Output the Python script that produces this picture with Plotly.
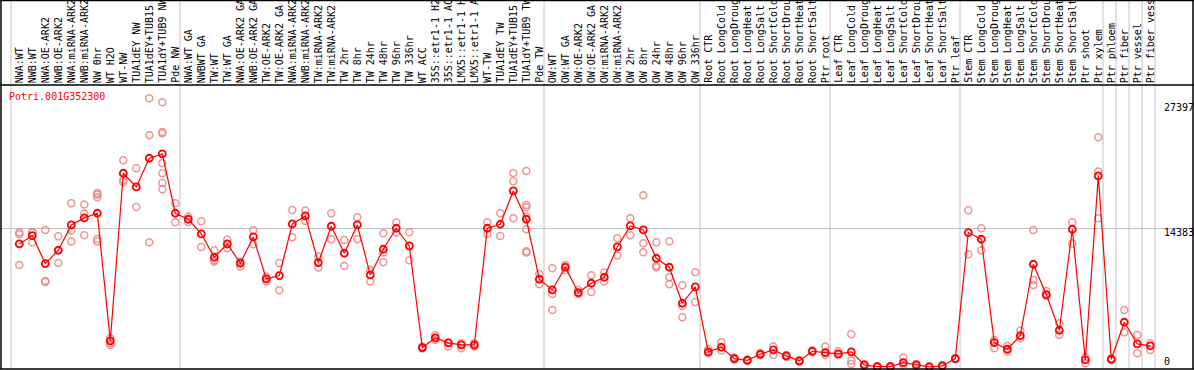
import plotly.graph_objects as go

title_text = "Potri.001G352300"

group_labels = [
    ["NWA:WT", "NWB:WT", "NWA:OE-ARK2", "NWB:OE-ARK2", "NWA:miRNA-ARK2", "NWB:miRNA-ARK2",
     "NW 0hr", "WT H2O", "WT-NW", "TUA1dEY NW", "TUA1dEY+TUB15 NW", "TUA1dY+TUB9 NW", "Pde NW"],
    ["NWA:WT GA", "NWBWT GA", "TW:WT", "TW:WT GA", "NWA:OE-ARK2 GA", "NWB:OE-ARK2 GA",
     "TW:OE-ARK2", "TW:OE-ARK2 GA", "NWA:miRNA-ARK2 GA", "NWB:miRNA-ARK2 GA", "TW:miRNA-ARK2",
     "TW:miRNA-ARK2 GA", "TW 2hr", "TW 8hr", "TW 24hr", "TW 48hr", "TW 96hr", "TW 336hr",
     "WT ACC", "35S::etr1-1 H2O", "35S::etr1-1 ACC", "LMX5::etr1-1 H2O", "LMX5::etr1-1 ACC",
     "WT-TW", "TUA1dEY TW", "TUA1dEY+TUB15 TW", "TUA1dY+TUB9 TW", "Pde TW"],
    ["OW:WT", "OW:WT GA", "OW:OE-ARK2", "OW:OE-ARK2 GA", "OW:miRNA-ARK2", "OW:miRNA-ARK2 GA",
     "OW 2hr", "OW 8hr", "OW 24hr", "OW 48hr", "OW 96hr", "OW 336hr"],
    ["Root CTR", "Root LongCold", "Root LongDrought", "Root LongHeat", "Root LongSalt",
     "Root ShortCold", "Root ShortDrought", "Root ShortHeat", "Root ShortSalt", "Ptr root"],
    ["Leaf CTR", "Leaf LongCold", "Leaf LongDrought", "Leaf LongHeat", "Leaf LongSalt",
     "Leaf ShortCold", "Leaf ShortDrought", "Leaf ShortHeat", "Leaf ShortSalt", "Ptr leaf"],
    ["Stem CTR", "Stem LongCold", "Stem LongDrought", "Stem LongHeat", "Stem LongSalt",
     "Stem ShortCold", "Stem ShortDrought", "Stem ShortHeat", "Stem ShortSalt", "Ptr shoot", "Ptr xylem"],
    ["Ptr phloem"],
    ["Ptr fiber"],
    ["Ptr vessel"],
    ["Ptr fiber vessel"],
]

mean_values = [
    12739, 13600, 10708, 12085, 14702, 15425, 15907, 2720, 20038, 18627, 21588, 22035, 15907,
    15287, 13772, 11362, 12739, 10742, 13462, 9124, 9468, 14805, 15631, 10811, 14564, 11775,
    14702, 9537, 12188, 14357, 12533, 2031, 3030, 2513, 2307, 2307, 14357, 14770, 18213, 15287,
    9090, 7988,
    10329, 7712, 8676, 9296, 12429, 14598, 14185, 11259, 10329, 6611, 8298,
    1584, 2066, 895, 723, 1343, 1790, 1171, 654, 1653, 1515,
    1377, 1584, 241, 69, 69, 482, 241, 34, 138, 895,
    13910, 13221, 2548, 1859, 3271, 10639, 7506, 3822, 14254, 757, 19763,
    826, 4648, 2410, 2204,
]

replicate_values = [
    [13910, 13738, 10570], [13910, 13944, 12877], [14185, 8917, 8814], [13531, 10777, 12085],
    [16940, 14116, 12980], [16802, 15872, 13634], [18007, 17835, 17559, 13256, 12980],
    [2995, 2479, 2307], [21381, 19350, 19143], [20555, 16561], [27785, 23963, 12911],
    [27372, 24308, 24170, 21071, 20038, 19040, 18386], [16940, 14977],
    [15562, 15011], [15080, 12429], [12085, 11086, 10914], [13187, 12292], [10914, 10398],
    [14151, 12705], [9365, 8849], [10777, 7953], [16251, 13428], [16182, 15115],
    [11431, 10295], [15907, 13221], [13152, 10467], [15494, 13221], [10054, 8849],
    [13841, 11844, 10845], [14943, 13910], [13944, 11052], [2135, 1928], [3305, 2823],
    [2548, 2135], [2479, 1963], [2479, 2135], [14977, 13772], [15907, 13565],
    [20073, 19212, 15390], [20279, 16767, 16526, 15562, 14254, 11982, 11844],
    [9640, 8573], [10226, 7575, 5922],
    [10570, 10054], [7988, 7575], [9503, 7781], [9778, 8849], [13324, 11534], [15390, 13634],
    [17766, 12808, 11878], [12911, 10467, 10329], [13015, 9296, 8573], [8470, 6335, 5165],
    [9813, 6748],
    [1859, 1446], [2582, 1722], [998, 792], [792, 654], [1446, 1239], [2135, 1274],
    [1274, 1067], [757, 551], [1722, 1584], [2135, 1274],
    [1653, 1274], [3409, 689, 344], [344, 138], [138, 0], [138, 0], [998, 241], [344, 138],
    [103, 0], [241, 34], [964, 826],
    [16217, 11672], [14357, 12085], [2823, 1963], [2204, 1618], [3787, 2995],
    [14185, 9021, 8504], [7884, 7368], [4545, 3340], [14977, 12774], [998, 413],
    [23757, 20210, 15390],
    [930, 757], [5922, 3615], [3340, 1446], [2479, 1790],
]

axis_tick_values = [27397, 14383, 0]
axis_tick_labels = ["27397", "14383", "0"]

# ---------------------------------------------------------------
categories = [lab for grp in group_labels for lab in grp]
n = len(categories)
xs = list(range(n))

W, H = 1194, 370
TOP, BOT = 85, 1
plot_h = H - TOP - BOT
x_range = [(0 - 19.3) / 13.0, (W - 19.3) / 13.0]
y_range = [-180, 29153]

def py_to_paper(py):
    return (H - BOT - py) / plot_h

MONO = "DejaVu Sans Mono"

rep_x, rep_y = [], []
for i, reps in enumerate(replicate_values):
    for v in reps:
        rep_x.append(i)
        rep_y.append(v)

fig = go.Figure()
fig.add_trace(go.Scatter(
    x=rep_x, y=rep_y, mode="markers",
    marker=dict(symbol="circle-open", size=7, color="rgba(235,130,130,0.85)",
                line=dict(width=1.5, color="rgba(235,130,130,0.85)")),
    hoverinfo="skip", showlegend=False, cliponaxis=False,
))
fig.add_trace(go.Scatter(
    x=xs, y=mean_values, mode="lines+markers",
    line=dict(color="#ff0000", width=1.2),
    marker=dict(symbol="circle-open", size=7, color="#ff0000",
                line=dict(width=1.8, color="#ee0000")),
    showlegend=False, cliponaxis=False,
))

shapes = []
bounds = [0]
for grp in group_labels:
    bounds.append(bounds[-1] + len(grp))
for b in bounds:
    xb = b - 0.638
    shapes.append(dict(type="line", xref="x", yref="paper", x0=xb, x1=xb,
                       y0=0, y1=py_to_paper(0), line=dict(color="#c4c4c4", width=1),
                       layer="below"))
for py in [0.5, 85, 369]:
    shapes.append(dict(type="line", xref="paper", yref="paper", x0=0, x1=1,
                       y0=py_to_paper(py), y1=py_to_paper(py),
                       line=dict(color="black", width=1.5)))
for pxl in [1, 1193]:
    shapes.append(dict(type="line", xref="paper", yref="paper", x0=pxl / W, x1=pxl / W,
                       y0=py_to_paper(369), y1=py_to_paper(0),
                       line=dict(color="black", width=1.5)))

annotations = []
for i, lab in enumerate(categories):
    annotations.append(dict(
        x=i, xref="x", y=1, yref="paper", yanchor="bottom", xanchor="center",
        text=lab[:14], textangle=-90, showarrow=False,
        font=dict(family=MONO, size=10, color="black"),
    ))
annotations.append(dict(
    x=7 / W, xref="paper", y=py_to_paper(96.7), yref="paper", xanchor="left", yanchor="middle",
    text=title_text, showarrow=False, font=dict(family=MONO, size=10, color="#ff0000"),
))
shifts = [-5, -4.7, 5.6]
for v, t, s in zip(axis_tick_values, axis_tick_labels, shifts):
    annotations.append(dict(
        x=1162 / W, xref="paper", y=v, yref="y", xanchor="left", yanchor="middle",
        yshift=s, text=t, showarrow=False, font=dict(family=MONO, size=10, color="black"),
    ))

fig.update_layout(
    width=W, height=H,
    margin=dict(l=0, r=0, t=TOP, b=BOT, pad=0),
    paper_bgcolor="white", plot_bgcolor="white",
    xaxis=dict(range=x_range, showgrid=False, zeroline=False, showticklabels=False,
               ticks="", showline=False, fixedrange=True),
    yaxis=dict(range=y_range, tickvals=[axis_tick_values[1]], showgrid=True,
               gridcolor="#c4c4c4", gridwidth=1, zeroline=False, showticklabels=False,
               ticks="", showline=False, fixedrange=True),
    shapes=shapes, annotations=annotations, showlegend=False,
)

fig.write_html(
    "out.html",
    config={"displayModeBar": False},
    post_script="document.body.style.margin='0';document.body.style.padding='0';"
                "document.body.style.overflow='hidden';",
)
